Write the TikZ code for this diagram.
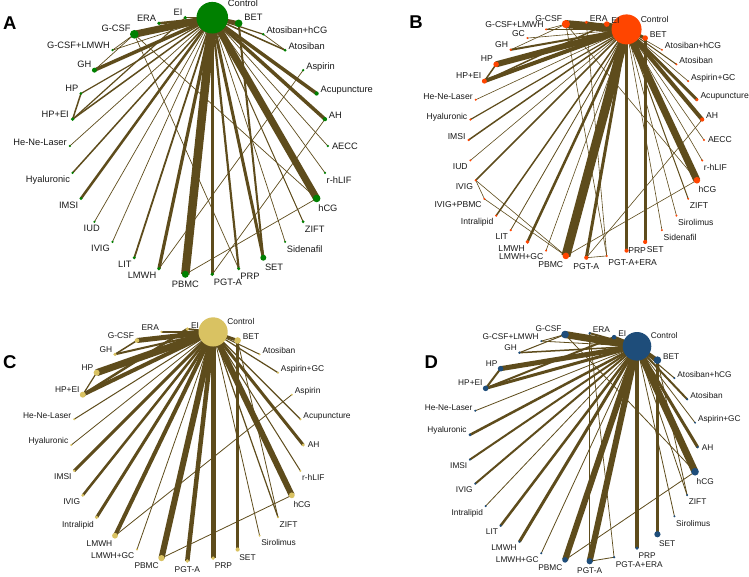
\documentclass[tikz,border=0pt]{standalone}
\usepackage{fontspec}
\setmainfont{Liberation Sans}
\definecolor{edgec}{RGB}{94,76,28}
\definecolor{colA}{RGB}{0,128,0}
\definecolor{colB}{RGB}{255,69,0}
\definecolor{colC}{RGB}{217,194,98}
\definecolor{colD}{RGB}{30,77,122}
\definecolor{txt}{RGB}{25,25,25}
\pgfdeclarelayer{bgw}
\pgfdeclarelayer{edges}
\pgfsetlayers{bgw,edges,main}
\newcommand{\nd}[5]{%
  \pgfmathsetmacro\mytheta{mod(#2+1,360)-1}%
  \pgfmathsetmacro\myr{#3}%
  \node[ndot, minimum size={(2*\myr+0.6)*1pt}] (#1) at ({\cx+\R*sin(\mytheta)},{\cy-\R*cos(\mytheta)}) {};%
  \ifdim\mytheta pt<84pt \tikzset{labpos/.style={ur=\myr}}%
  \else\ifdim\mytheta pt<96pt \tikzset{labpos/.style={rr=\myr}}%
  \else\ifdim\mytheta pt<175pt \tikzset{labpos/.style={lr=\myr}}%
  \else\ifdim\mytheta pt<188pt \tikzset{labpos/.style={bb=\myr}}%
  \else\ifdim\mytheta pt<265pt \tikzset{labpos/.style={ll=\myr}}%
  \else\ifdim\mytheta pt<292pt \tikzset{labpos/.style={lf=\myr}}%
  \else \tikzset{labpos/.style={ul=\myr}}%
  \fi\fi\fi\fi\fi\fi
  \node[lbl, labpos, #5] (#1-t) at (#1.center) {#4};%
}
\newcommand{\ed}[3]{\draw[conn, line width=#3pt] (#1.center) -- (#2.center);}
\begin{document}
\begin{tikzpicture}[x=1pt,y=-1pt,
  conn/.style={draw=edgec, line cap=butt},
  ndot/.style={circle, fill=\dotcol, draw=none, inner sep=0pt, outer sep=0pt},
  ur/.style={anchor=base west, xshift={(#1+2)*1pt}, yshift=1pt},
  rr/.style={anchor=west, xshift={(#1+3)*1pt}},
  lr/.style={anchor=north west, xshift=1.5pt, yshift={-(#1+3)*1pt}},
  bb/.style={anchor=north, yshift={-(#1+3.5)*1pt}},
  ll/.style={anchor=north east, xshift=-2.5pt, yshift={-(#1+2)*1pt}},
  lf/.style={anchor=base east, xshift={-(#1+2)*1pt}, yshift=0.5pt},
  ul/.style={anchor=base east, xshift={-(2+0.4*#1)*1pt}, yshift={(1.5+0.4*#1)*1pt}},
  plet/.style={font=\fontsize{18.5}{20}\selectfont\bfseries, inner sep=0pt, text=black}]
\begin{pgfonlayer}{bgw}
\fill[white] (0,0) rectangle (749,576);
\end{pgfonlayer}
\useasboundingbox (0,0) rectangle (749,576);

% ---------------- Panel A ----------------
\node[plet] (pA) at (9.7,23.3) {A};
\def\cx{198.8}\def\cy{146}\def\R{129}\def\dotcol{colA}
\tikzset{lbl/.style={font=\fontsize{9.3}{11}\selectfont, inner sep=0pt, text=txt}}
\nd{aCtrl}{6}{15.5}{Control}{xshift=-2pt,yshift=10pt}
\nd{aBET}{18}{3.5}{BET}{yshift=2pt}
\nd{aAtoH}{30}{1}{Atosiban+hCG}{}
\nd{aAto}{42}{1.2}{Atosiban}{}
\nd{aAsp}{54}{1}{Aspirin}{}
\nd{aAcu}{66}{1.8}{Acupuncture}{}
\nd{aAH}{78}{1.8}{AH}{}
\nd{aAECC}{90}{1}{AECC}{}
\nd{arhLIF}{102}{0.9}{r-hLIF}{}
\nd{ahCG}{114}{3.5}{hCG}{}
\nd{aZIFT}{126}{1.2}{ZIFT}{}
\nd{aSid}{138}{0.9}{Sidenafil}{}
\nd{aSET}{150}{2.7}{SET}{}
\nd{aPRP}{162}{1.4}{PRP}{}
\nd{aPGT}{174}{1.6}{PGT-A}{}
\nd{aPBMC}{186}{3.2}{PBMC}{}
\nd{aLMWH}{198}{1.5}{LMWH}{}
\nd{aLIT}{210}{1.3}{LIT}{}
\nd{aIVIG}{222}{0.9}{IVIG}{}
\nd{aIUD}{234}{0.9}{IUD}{xshift=8pt}
\nd{aIMSI}{246}{1.3}{IMSI}{}
\nd{aHya}{258}{1}{Hyaluronic}{}
\nd{aHeNe}{270}{0.9}{He-Ne-Laser}{}
\nd{aHPEI}{282}{1.6}{HP+EI}{yshift=1.5pt}
\nd{aHP}{294}{1.2}{HP}{}
\nd{aGH}{306}{2.2}{GH}{}
\nd{aGCLM}{318}{0.9}{G-CSF+LMWH}{}
\nd{aGCSF}{330}{4}{G-CSF}{}
\nd{aERA}{342}{1.5}{ERA}{}
\nd{aEI}{354}{1.5}{EI}{}
\begin{pgfonlayer}{edges}
\ed{aCtrl}{aEI}{1.5}\ed{aCtrl}{aERA}{2.5}\ed{aCtrl}{aGCSF}{7}
\ed{aCtrl}{aGCLM}{0.7}\ed{aGCSF}{aGCLM}{0.7}\ed{aGCSF}{aGH}{0.7}
\ed{aCtrl}{aGH}{3.5}\ed{aCtrl}{aHP}{1.2}\ed{aHP}{aHPEI}{1.5}
\ed{aCtrl}{aHPEI}{1.5}\ed{aEI}{aHPEI}{1.2}\ed{aCtrl}{aHeNe}{0.7}
\ed{aCtrl}{aHya}{1.5}\ed{aCtrl}{aIMSI}{2.5}\ed{aCtrl}{aIUD}{0.7}
\ed{aCtrl}{aIVIG}{0.7}\ed{aCtrl}{aLIT}{1.8}\ed{aCtrl}{aLMWH}{3.2}
\ed{aCtrl}{aPBMC}{8.5}\ed{aCtrl}{aPGT}{3.5}\ed{aCtrl}{aPRP}{2.2}
\ed{aCtrl}{aSET}{3}\ed{aBET}{aSET}{2}\ed{aCtrl}{aSid}{0.7}
\ed{aCtrl}{aZIFT}{1}\ed{aCtrl}{ahCG}{7}\ed{aCtrl}{arhLIF}{0.7}
\ed{aCtrl}{aAECC}{0.7}\ed{aCtrl}{aAH}{3.5}\ed{aCtrl}{aAcu}{3.5}
\ed{aCtrl}{aAto}{1.5}\ed{aCtrl}{aAtoH}{1.2}\ed{aAtoH}{aAto}{0.7}
\ed{aCtrl}{aBET}{4}\ed{aLMWH}{aAsp}{0.7}\ed{aPBMC}{ahCG}{0.7}
\ed{aPGT}{aAH}{0.7}\ed{aGCSF}{ahCG}{0.7}\ed{aGCSF}{aPRP}{0.7}
\end{pgfonlayer}

% ---------------- Panel B ----------------
\node[plet] (pB) at (416,22.2) {B};
\def\cx{586.3}\def\cy{140}\def\R{117.7}\def\dotcol{colB}
\tikzset{lbl/.style={font=\fontsize{8.6}{10}\selectfont, inner sep=0pt, text=txt}}
\nd{bCtrl}{20}{14.7}{Control}{xshift=-2.7pt,yshift=5.6pt}
\nd{bBET}{30}{2.5}{BET}{}
\nd{bAtoH}{40}{0.8}{Atosiban+hCG}{}
\nd{bAto}{50}{0.8}{Atosiban}{}
\nd{bAspGC}{60}{0.8}{Aspirin+GC}{}
\nd{bAcu}{70}{1.4}{Acupuncture}{}
\nd{bAH}{80}{1.8}{AH}{}
\nd{bAECC}{90}{0.8}{AECC}{}
\nd{brhLIF}{100}{0.8}{r-hLIF}{}
\nd{bhCG}{110}{3}{hCG}{}
\nd{bZIFT}{120}{0.8}{ZIFT}{}
\nd{bSir}{130}{0.8}{Sirolimus}{}
\nd{bSid}{140}{0.8}{Sidenafil}{}
\nd{bSET}{150}{1.8}{SET}{}
\nd{bPRP}{160}{1.8}{PRP}{yshift=8.5pt}
\nd{bPGTE}{170}{0.8}{PGT-A+ERA}{}
\nd{bPGT}{180}{1.8}{PGT-A}{}
\nd{bPBMC}{190}{3}{PBMC}{}
\nd{bLMGC}{200}{0.8}{LMWH+GC}{}
\nd{bLMWH}{210}{1.6}{LMWH}{}
\nd{bLIT}{220}{0.9}{LIT}{}
\nd{bIntra}{230}{0.9}{Intralipid}{}
\nd{bIVPB}{240}{0.8}{IVIG+PBMC}{}
\nd{bIVIG}{250}{0.9}{IVIG}{}
\nd{bIUD}{260}{0.8}{IUD}{}
\nd{bIMSI}{270}{0.9}{IMSI}{}
\nd{bHya}{280}{0.9}{Hyaluronic}{}
\nd{bHeNe}{290}{0.8}{He-Ne-Laser}{}
\nd{bHPEI}{300}{2.2}{HP+EI}{}
\nd{bHP}{310}{2.5}{HP}{}
\nd{bGH}{320}{1}{GH}{}
\nd{bGC}{330}{0.8}{GC}{}
\nd{bGCLM}{340}{0.8}{G-CSF+LMWH}{}
\nd{bGCSF}{350}{3.8}{G-CSF}{}
\nd{bERA}{360}{1.3}{ERA}{}
\nd{bEI}{370}{2.5}{EI}{}
\begin{pgfonlayer}{edges}
\ed{bCtrl}{bEI}{4}\ed{bCtrl}{bERA}{2}\ed{bCtrl}{bGCSF}{8}
\ed{bGCSF}{bGCLM}{0.6}\ed{bCtrl}{bGCLM}{0.6}\ed{bCtrl}{bGC}{0.6}
\ed{bGCSF}{bGH}{0.6}\ed{bCtrl}{bGH}{2}\ed{bCtrl}{bHP}{6}
\ed{bHP}{bHPEI}{1.5}\ed{bCtrl}{bHPEI}{4}\ed{bEI}{bHPEI}{1.5}
\ed{bCtrl}{bHeNe}{0.6}\ed{bCtrl}{bHya}{1.2}\ed{bCtrl}{bIMSI}{1.5}
\ed{bCtrl}{bIUD}{0.6}\ed{bCtrl}{bIVIG}{1.5}\ed{bIVIG}{bIVPB}{0.6}
\ed{bIVIG}{bPBMC}{0.6}\ed{bIVPB}{bPBMC}{0.6}\ed{bCtrl}{bIntra}{1.5}
\ed{bCtrl}{bLIT}{0.8}\ed{bCtrl}{bLMWH}{2.5}\ed{bCtrl}{bLMGC}{0.6}
\ed{bCtrl}{bPBMC}{9}\ed{bCtrl}{bPGT}{3}\ed{bPGT}{bPGTE}{0.6}
\ed{bERA}{bPGTE}{0.6}\ed{bGCSF}{bPGTE}{0.6}\ed{bCtrl}{bPRP}{3.5}
\ed{bBET}{bSET}{3}\ed{bCtrl}{bSid}{0.6}\ed{bCtrl}{bSir}{0.6}
\ed{bCtrl}{bZIFT}{1}\ed{bCtrl}{bhCG}{7}\ed{bCtrl}{brhLIF}{0.6}
\ed{bCtrl}{bAECC}{0.6}\ed{bCtrl}{bAH}{4}\ed{bCtrl}{bAcu}{3}
\ed{bCtrl}{bAspGC}{0.6}\ed{bCtrl}{bAto}{1}\ed{bCtrl}{bAtoH}{0.6}
\ed{bCtrl}{bBET}{3}\ed{bPBMC}{bhCG}{0.6}\ed{bPGT}{bAH}{0.6}
\ed{bGCSF}{bhCG}{0.6}
\end{pgfonlayer}

% ---------------- Panel C ----------------
\node[plet] (pC) at (9.7,362.5) {C};
\def\cx{187.3}\def\cy{445}\def\R{116}\def\dotcol{colC}
\tikzset{lbl/.style={font=\fontsize{8.4}{10}\selectfont, inner sep=0pt, text=txt}}
\nd{cCtrl}{12.857}{14.3}{Control}{xshift=-2.3pt,yshift=6.3pt}
\nd{cBET}{25.714}{3}{BET}{}
\nd{cAto}{38.571}{0.8}{Atosiban}{}
\nd{cAspGC}{51.429}{0.8}{Aspirin+GC}{}
\nd{cAsp}{64.286}{0.8}{Aspirin}{}
\nd{cAcu}{77.143}{0.9}{Acupuncture}{}
\nd{cAH}{90}{1.3}{AH}{}
\nd{crhLIF}{102.857}{0.8}{r-hLIF}{}
\nd{chCG}{115.714}{2.6}{hCG}{}
\nd{cZIFT}{128.571}{0.8}{ZIFT}{}
\nd{cSir}{141.429}{0.8}{Sirolimus}{}
\nd{cSET}{154.286}{1.8}{SET}{}
\nd{cPRP}{167.143}{1.6}{PRP}{}
\nd{cPGT}{180}{1.6}{PGT-A}{}
\nd{cPBMC}{192.857}{2.8}{PBMC}{}
\nd{cLMGC}{205.714}{0.8}{LMWH+GC}{}
\nd{cLMWH}{218.571}{2.6}{LMWH}{}
\nd{cIntra}{231.429}{1.5}{Intralipid}{}
\nd{cIVIG}{244.286}{1.3}{IVIG}{}
\nd{cIMSI}{257.143}{1}{IMSI}{}
\nd{cHya}{270}{0.8}{Hyaluronic}{yshift=1.5pt}
\nd{cHeNe}{282.857}{0.8}{He-Ne-Laser}{}
\nd{cHPEI}{295.714}{2.7}{HP+EI}{}
\nd{cHP}{308.571}{2.7}{HP}{}
\nd{cGH}{321.429}{1.5}{GH}{}
\nd{cGCSF}{334.286}{2}{G-CSF}{}
\nd{cERA}{347.143}{1}{ERA}{}
\nd{cEI}{360}{1.5}{EI}{}
\begin{pgfonlayer}{edges}
\ed{cCtrl}{cEI}{2}\ed{cCtrl}{cERA}{2.5}\ed{cCtrl}{cGCSF}{5}
\ed{cGCSF}{cGH}{1.5}\ed{cCtrl}{cGH}{2}\ed{cCtrl}{cHP}{7}
\ed{cHP}{cHPEI}{1.2}\ed{cCtrl}{cHPEI}{4}\ed{cEI}{cHPEI}{2.5}
\ed{cCtrl}{cHeNe}{1}\ed{cCtrl}{cHya}{0.8}\ed{cCtrl}{cIMSI}{3}
\ed{cCtrl}{cIVIG}{2.5}\ed{cCtrl}{cIntra}{3}\ed{cCtrl}{cLMWH}{4}
\ed{cLMWH}{cAsp}{0.8}\ed{cCtrl}{cLMGC}{0.8}\ed{cCtrl}{cPBMC}{6}
\ed{cPBMC}{chCG}{0.8}\ed{cCtrl}{cPGT}{4.5}\ed{cCtrl}{cPRP}{5}
\ed{cBET}{cSET}{3}\ed{cCtrl}{cSir}{0.8}\ed{cCtrl}{cZIFT}{1.2}
\ed{cBET}{cZIFT}{0.8}\ed{cCtrl}{chCG}{6}\ed{cCtrl}{crhLIF}{1}
\ed{cCtrl}{cAH}{3}\ed{cCtrl}{cAcu}{1.2}\ed{cCtrl}{cAspGC}{1.2}
\ed{cCtrl}{cAto}{1}\ed{cCtrl}{cBET}{3}
\end{pgfonlayer}

% ---------------- Panel D ----------------
\node[plet] (pD) at (431.3,362.5) {D};
\def\cx{583.5}\def\cy{447.2}\def\R{114.2}\def\dotcol{colD}
\tikzset{lbl/.style={font=\fontsize{8.3}{10}\selectfont, inner sep=0pt, text=txt}}
\nd{dCtrl}{27.93}{14}{Control}{xshift=-2.4pt,yshift=6.4pt}
\nd{dBET}{40.34}{3.5}{BET}{}
\nd{dAtoH}{52.76}{0.8}{Atosiban+hCG}{}
\nd{dAto}{65.17}{1}{Atosiban}{}
\nd{dAspGC}{77.59}{0.8}{Aspirin+GC}{}
\nd{dAH}{90}{1}{AH}{}
\nd{dhCG}{102.41}{3.5}{hCG}{}
\nd{dZIFT}{114.83}{0.8}{ZIFT}{}
\nd{dSir}{127.24}{0.8}{Sirolimus}{}
\nd{dSET}{139.66}{2.8}{SET}{}
\nd{dPRP}{152.07}{1.5}{PRP}{}
\nd{dPGTE}{164.48}{0.9}{PGT-A+ERA}{}
\nd{dPGT}{176.9}{2.8}{PGT-A}{}
\nd{dPBMC}{189.31}{2.5}{PBMC}{}
\nd{dLMGC}{201.72}{0.8}{LMWH+GC}{}
\nd{dLMWH}{214.14}{1}{LMWH}{}
\nd{dLIT}{226.55}{0.9}{LIT}{}
\nd{dIntra}{238.97}{0.8}{Intralipid}{}
\nd{dIVIG}{251.38}{0.9}{IVIG}{}
\nd{dIMSI}{263.79}{0.9}{IMSI}{}
\nd{dHya}{276.21}{1.2}{Hyaluronic}{yshift=2pt}
\nd{dHeNe}{288.62}{0.8}{He-Ne-Laser}{}
\nd{dHPEI}{301.03}{2.5}{HP+EI}{}
\nd{dHP}{313.45}{2.5}{HP}{}
\nd{dGH}{325.86}{1}{GH}{}
\nd{dGCLM}{338.28}{0.8}{G-CSF+LMWH}{}
\nd{dGCSF}{350.69}{3.5}{G-CSF}{}
\nd{dERA}{363.1}{1}{ERA}{}
\nd{dEI}{375.52}{2}{EI}{}
\begin{pgfonlayer}{edges}
\ed{dCtrl}{dEI}{3}\ed{dCtrl}{dERA}{2}\ed{dCtrl}{dGCSF}{7}
\ed{dGCSF}{dGCLM}{0.8}\ed{dCtrl}{dGCLM}{0.8}\ed{dGCSF}{dGH}{1}
\ed{dCtrl}{dGH}{1.5}\ed{dCtrl}{dHP}{5}\ed{dHP}{dHPEI}{2}
\ed{dCtrl}{dHPEI}{3}\ed{dEI}{dHPEI}{2}\ed{dCtrl}{dHeNe}{0.8}
\ed{dCtrl}{dHya}{2.5}\ed{dCtrl}{dIMSI}{2}\ed{dCtrl}{dIVIG}{2}
\ed{dCtrl}{dIntra}{0.8}\ed{dCtrl}{dLIT}{2.5}\ed{dCtrl}{dLMWH}{3}
\ed{dCtrl}{dLMGC}{0.8}\ed{dCtrl}{dPBMC}{6}\ed{dPBMC}{dhCG}{0.8}
\ed{dCtrl}{dPGT}{6}\ed{dPGT}{dPGTE}{0.8}\ed{dERA}{dPGT}{0.7}
\ed{dERA}{dPGTE}{0.7}\ed{dCtrl}{dPRP}{4}\ed{dBET}{dSET}{3}
\ed{dCtrl}{dSir}{0.8}\ed{dCtrl}{dZIFT}{0.8}\ed{dBET}{dZIFT}{0.8}
\ed{dCtrl}{dhCG}{7}\ed{dCtrl}{dAH}{3}\ed{dCtrl}{dAspGC}{0.8}
\ed{dCtrl}{dAto}{2}\ed{dCtrl}{dAtoH}{1}\ed{dCtrl}{dBET}{4}
\ed{dGCSF}{dhCG}{0.8}
\end{pgfonlayer}
\end{tikzpicture}
\end{document}
